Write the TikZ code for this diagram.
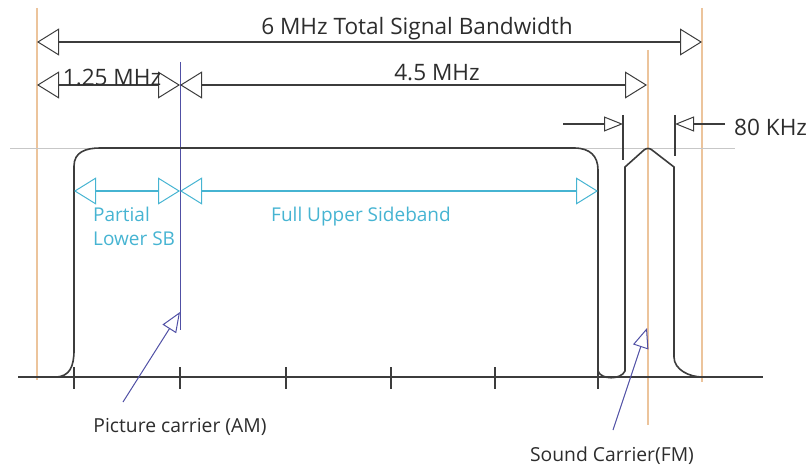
\documentclass[tikz,border=0pt]{standalone}
\usepackage{fontspec}
\setmainfont{Open Sans}
\usepackage{xcolor}
\usetikzlibrary{arrows.meta}
\definecolor{bandline}{RGB}{236,196,156}
\definecolor{carrline}{RGB}{80,80,165}
\definecolor{sideline}{RGB}{70,180,210}
\definecolor{inkline}{RGB}{60,60,60}
\definecolor{inktext}{RGB}{45,45,45}
\tikzset{
  dimtip/.tip    = {Triangle[open, length=22pt, width=27pt, line width=1pt]},
  smalltip/.tip  = {Triangle[open, length=19pt, width=15pt, line width=1pt]},
  dim/.style     = {dimtip-dimtip, inkline, line width=1.2pt},
  sideb/.style   = {dimtip-dimtip, sideline, line width=1.2pt},
  guide/.style   = {bandline, line width=1.4pt},
  spec/.style    = {inkline, line width=1.6pt},
  lbl/.style     = {text=inktext, inner sep=0pt, font=\fontsize{22.6}{26}\selectfont},
  slbl/.style    = {text=sideline, inner sep=0pt, align=left, font=\fontsize{19}{24}\selectfont},
  clbl/.style    = {text=inktext, inner sep=0pt, font=\fontsize{19.3}{22}\selectfont},
  pointer/.style = {-{Triangle[open, length=20pt, width=16pt, line width=1pt]}, carrline, line width=1pt},
}
\begin{document}
\begin{tikzpicture}[x=1pt, y=-1pt]
  \useasboundingbox (0,0) rectangle (809,468);
  % guide lines
  \draw[guide] (37,8) -- (37,380);
  \draw[guide] (702,8) -- (702,382);
  \draw[guide] (648,50) -- (648,425);
  \draw[black!22, line width=0.9pt] (10,148) -- (735,148);
  \draw[carrline, line width=1pt] (180,62) -- (180,330);
  % axis with ticks
  \coordinate (ax0) at (18,377);
  \coordinate (ax1) at (763,377);
  \draw[spec] (ax0) -- (ax1);
  \foreach \k in {74,180,286,391,495,598}
    \draw[spec] (\k,367) -- (\k,389);
  % spectrum outline
  \draw[spec] (55,377) .. controls (70,377) and (74,366) .. (74,350) -- (74,166)
    .. controls (74,152) and (86,148) .. (100,148) -- (574,148)
    .. controls (590,148) and (598,156) .. (598,170) -- (598,371)
    .. controls (601,380) and (621,380) .. (625,371) -- (625,167) -- (644,150)
    .. controls (646,148) and (650,148) .. (652,150) -- (674,167) -- (674,357)
    .. controls (674,370) and (690,377) .. (702,377);
  % dimension lines
  \coordinate (tA) at (37,42);  \coordinate (tB) at (702,42);
  \draw[dim] (tA) -- (tB);
  \node[lbl] (totbw) at (417,29) {6 MHz Total Signal Bandwidth};
  \coordinate (mA) at (37,85);  \coordinate (mB) at (180,85);  \coordinate (mC) at (647,85);
  \draw[dim] (mA) -- (mB);
  \draw[dim] (mB) -- (mC);
  \node[lbl] (lsbw) at (112,77) {1.25 MHz};
  \node[lbl] (scw) at (437,73) {4.5 MHz};
  % 80 kHz gap
  \coordinate (gL) at (623,124);  \coordinate (gR) at (675,124);
  \coordinate (gL0) at (563,124); \coordinate (gR0) at (725,124);
  \draw[spec, line width=1.2pt] (623,115) -- (623,160);
  \draw[spec, line width=1.2pt] (675,115) -- (675,156);
  \draw[-smalltip, inkline, line width=1.2pt] (gL0) -- (gL);
  \draw[-smalltip, inkline, line width=1.2pt] (gR0) -- (gR);
  \node[lbl, anchor=west] (gapw) at (734,127) {80 KHz};
  % sidebands
  \coordinate (sA) at (74,191);  \coordinate (sB) at (180,191);  \coordinate (sC) at (598,191);
  \draw[sideb] (sA) -- (sB);
  \draw[sideb] (sB) -- (sC);
  \node[slbl, anchor=north west] (lsb) at (93,207) {Partial\\Lower SB};
  \node[slbl] (usb) at (361,217) {Full Upper Sideband};
  % carrier pointers
  \coordinate (pcA) at (123,402);  \coordinate (pcB) at (180,312);
  \draw[pointer] (pcA) -- (pcB);
  \node[clbl] (pclbl) at (180,427) {Picture carrier (AM)};
  \coordinate (scA) at (613,430);  \coordinate (scB) at (647,328);
  \draw[pointer] (scA) -- (scB);
  \node[clbl] (sclbl) at (612,456) {Sound Carrier(FM)};
\end{tikzpicture}
\end{document}
